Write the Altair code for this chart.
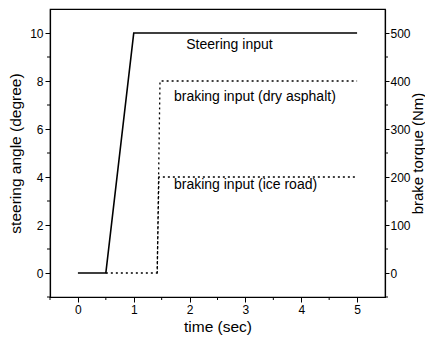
import altair as alt
import pandas as pd

# Data
steer_t = [0, 0.5, 1.0, 5.0]
steer_v = [0, 0, 10, 10]
dry_t = [0.5, 1.42, 1.47, 5.0]
dry_v = [0, 0, 400, 400]
ice_t = [1.42, 1.45, 5.0]
ice_v = [0, 200, 200]
label_text = ["Steering input", "braking input (dry asphalt)", "braking input (ice road)"]
label_t = [1.94, 1.72, 1.72]
label_v = [9.5, 7.33, 3.67]
x_minor = [-0.5, 0.5, 1.5, 2.5, 3.5, 4.5]
left_minor = [-1, 1, 3, 5, 7, 9]
right_minor = [-50, 50, 150, 250, 350, 450]

W, H = 335, 288
FONT = "Liberation Sans"

steer_df = pd.DataFrame({"time": steer_t, "angle": steer_v})
dry_df = pd.DataFrame({"time": dry_t, "torque": dry_v})
ice_df = pd.DataFrame({"time": ice_t, "torque": ice_v})
lab_df = pd.DataFrame({"time": label_t, "angle": label_v, "txt": label_text})

xscale = alt.Scale(domain=[-0.5, 5.5], nice=False, zero=False)
xaxis = alt.Axis(title="time (sec)", values=[0, 1, 2, 3, 4, 5], format="d", grid=False,
                 tickSize=5, titlePadding=4)
lscale = alt.Scale(domain=[-1, 11], nice=False, zero=False)
laxis = alt.Axis(title="steering angle (degree)", values=[0, 2, 4, 6, 8, 10], grid=False,
                 tickSize=5, titlePadding=6)
rscale = alt.Scale(domain=[-50, 550], nice=False, zero=False)
raxis = alt.Axis(title="brake torque (Nm)", orient="right", values=[0, 100, 200, 300, 400, 500],
                 grid=False, tickSize=4, labelPadding=1, titleAngle=270, titleX=32,
                 titleY=H / 2, titleAlign="center", titleBaseline="middle", titleFontSize=15)

X = alt.X("time:Q", scale=xscale, axis=xaxis)

steer = alt.Chart(steer_df).mark_line(color="black", strokeWidth=1.6).encode(
    x=X, y=alt.Y("angle:Q", scale=lscale, axis=laxis))
labels = alt.Chart(lab_df).mark_text(align="left", baseline="middle", font=FONT, fontSize=14,
                                     color="black").encode(
    x=alt.X("time:Q", scale=xscale), y=alt.Y("angle:Q", scale=lscale), text="txt:N")
lminor = alt.Chart(pd.DataFrame({"angle": left_minor})).mark_rule(color="black").encode(
    y=alt.Y("angle:Q", scale=lscale), x=alt.value(-3), x2=alt.value(0))
xminor = alt.Chart(pd.DataFrame({"time": x_minor})).mark_rule(color="black").encode(
    x=alt.X("time:Q", scale=xscale), y=alt.value(H), y2=alt.value(H + 3))

dry = alt.Chart(dry_df).mark_line(color="black", strokeWidth=1.3, strokeDash=[2, 3]).encode(
    x=X, y=alt.Y("torque:Q", scale=rscale, axis=raxis))
ice = alt.Chart(ice_df).mark_line(color="black", strokeWidth=1.3, strokeDash=[2, 3]).encode(
    x=alt.X("time:Q", scale=xscale), y=alt.Y("torque:Q", scale=rscale))
rminor = alt.Chart(pd.DataFrame({"torque": right_minor})).mark_rule(color="black").encode(
    y=alt.Y("torque:Q", scale=rscale), x=alt.value(W), x2=alt.value(W + 3))

left = alt.layer(steer, labels, lminor, xminor)
right = alt.layer(dry, ice, rminor)

chart = alt.layer(left, right).resolve_scale(y="independent").properties(
    width=W, height=H,
    autosize=alt.AutoSizeParams(type="none"),
    padding={"left": 42, "top": 1, "right": 40, "bottom": 43},
).configure_view(stroke="black", strokeWidth=1.2).configure_axis(
    labelFont=FONT, titleFont=FONT, labelFontSize=12, titleFontSize=15.5,
    labelColor="black", titleColor="black", domainColor="black", tickColor="black",
    titleFontWeight="normal", domainWidth=1.2, tickWidth=1,
)

chart.save("out.html", embed_options={"renderer": "svg", "actions": False})
